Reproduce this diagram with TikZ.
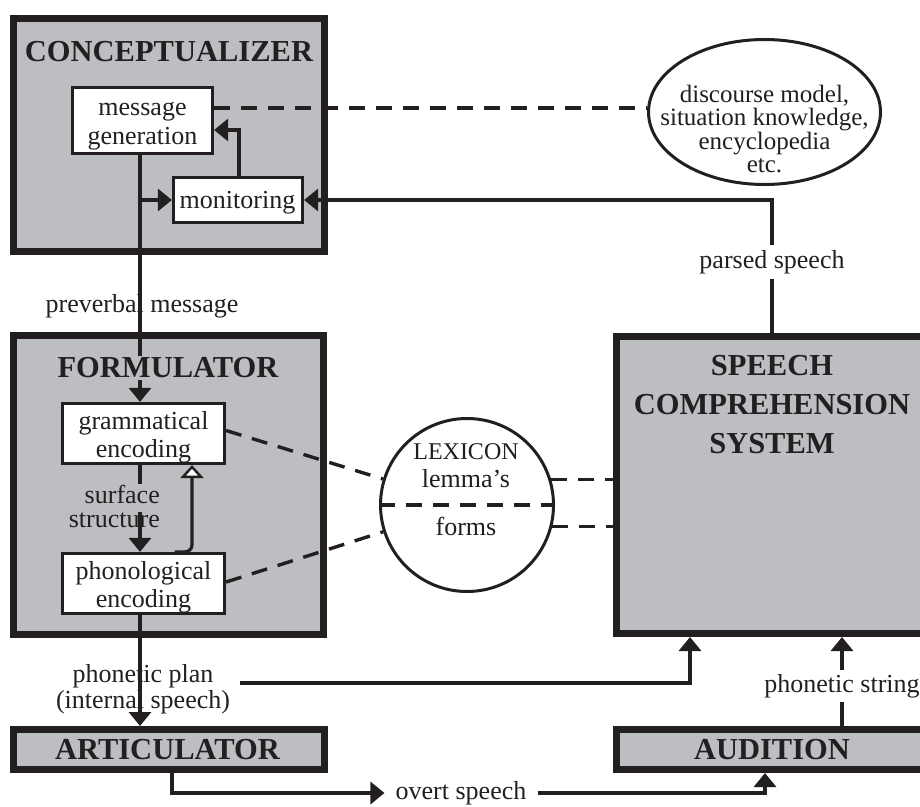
\documentclass[tikz,border=0pt]{standalone}
\usepackage{fontspec}
\setmainfont{Liberation Serif}
\usetikzlibrary{arrows.meta,calc,shapes.geometric}
\definecolor{boxgray}{RGB}{189,190,194}
\definecolor{ink}{RGB}{35,31,32}
\begin{document}
\begin{tikzpicture}[x=1pt,y=-1pt,
  bigbox/.style={draw=ink, line width=7pt, fill=boxgray, inner sep=0pt},
  smallbox/.style={draw=ink, line width=3.2pt, fill=white, inner sep=0pt},
  titlet/.style={font=\fontsize{30.5}{39}\selectfont\bfseries, fill=boxgray, inner sep=2pt, align=center, text=ink},
  lbl/.style={font=\fontsize{26}{28}\selectfont, inner sep=0pt, align=center, text=ink},
  lblone/.style={font=\fontsize{26}{28}\selectfont, inner sep=0pt, text=ink},
  conn/.style={line width=3.2pt, draw=ink},
  arr/.style={conn, -{Triangle[length=14pt,width=22pt]}},
  dashln/.style={line width=3.4pt, draw=ink, dash pattern=on 16pt off 11pt}]
\clip (0,0) rectangle (920,806);
\fill[white] (0,0) rectangle (920,806);

% big boxes
\node[bigbox, minimum width=311pt, minimum height=233pt] (concept) at (169,135) {};
\node[bigbox, minimum width=310pt, minimum height=299pt] (formul) at (168.5,485) {};
\node[bigbox, minimum width=311pt, minimum height=40pt] (artic) at (169,749.5) {};
\node[bigbox, minimum width=311pt, minimum height=297pt] (scs) at (772,485) {};
\node[bigbox, minimum width=311pt, minimum height=40pt] (audit) at (772,749.5) {};

% small boxes
\node[smallbox, minimum width=140pt, minimum height=66pt] (msg) at (142.5,120.5) {};
\node[smallbox, minimum width=129pt, minimum height=45pt] (mon) at (238,200) {};
\node[smallbox, minimum width=162pt, minimum height=60pt] (gram) at (143.5,433.5) {};
\node[smallbox, minimum width=162pt, minimum height=60pt] (phon) at (143.5,583.5) {};

% ellipse and lexicon
\node[ellipse, draw=ink, line width=3pt, minimum width=232pt, minimum height=145pt, inner sep=0pt] (ell) at (764.5,112) {};
\node[circle, draw=ink, line width=3pt, minimum size=173pt, inner sep=0pt, fill=white] (lex) at (467,505) {};

% connectors
\coordinate (col) at (140,0);
\draw[arr] (msg.south -| col) -- (gram.north -| col);
\draw[arr] (col |- mon.west) -- (mon.west);
\draw[arr] ($(mon.north)+(1,0)$) |- ($(msg.east)+(0,9.5)$);
\draw[arr] (scs.north) |- node[lblone, fill=white, inner ysep=5pt, inner xsep=2pt, pos=0.267] (parsed) {parsed speech} (mon.east);

\coordinate (dstart) at ($(msg.east)+(0,-12.5)$);
\draw[dashln] (dstart) -- (ell.west |- dstart);
\draw[dashln] ($(gram.east)+(0,-3)$) -- (lex);
\draw[dashln] ($(phon.east)+(0,-1.5)$) -- (lex);
\draw[dashln] (lex.west) -- (lex.east);
\draw[dashln] (lex.17) -- (scs.west |- lex.17);
\draw[dashln] (lex.-14.5) -- (scs.west |- lex.-14.5);

\coordinate (s1) at (140,484);
\coordinate (s2) at (140,512);
\draw[conn] (gram.south -| col) -- (s1);
\draw[arr] (s2) -- (phon.north -| col);
\draw[conn, rounded corners=7pt, -{Triangle[length=13pt,width=23pt,fill=white,line width=2.4pt]}]
  ($(phon.north)+(31,0)$) -| ($(gram.south)+(48.5,0)$);

\draw[arr] (phon.south -| col) -- (artic.north -| col);
\coordinate (ppl) at (240,683);
\draw[arr] (ppl) -| ($(scs.south)+(-82,0)$);

\node[lblone, inner xsep=11pt] (ovs) at (461,793) {overt speech};
\draw[arr] ($(artic.south)+(3,0)$) |- (ovs.west);
\draw[arr] (ovs.east) -| ($(audit.south)+(-7,0)$);
\draw[arr] ($(audit.north)+(70,0)$) -- node[lblone, fill=white, inner ysep=4pt, inner xsep=2pt, pos=0.45] (pstr) {phonetic string} ($(scs.south)+(70,0)$);

% titles
\node[titlet] (conceptT) at (169,52) {CONCEPTUALIZER};
\node[titlet] (formT) at (168,368) {FORMULATOR};
\node[titlet] (articT) at (167.5,750) {ARTICULATOR};
\node[titlet] (auditT) at (772,750) {AUDITION};
\node[titlet] (scsT) at (772,405) {SPEECH\\COMPREHENSION\\SYSTEM};

% texts
\node[lbl, font=\fontsize{26}{29}\selectfont] (msgT) at (142.5,124.5) {\strut message\\\strut generation};
\node[lbl] (monT) at (237.5,202.5) {\strut monitoring};
\node[lbl] (gramT) at (143.5,438) {\strut grammatical\\\strut encoding};
\node[lbl] (phonT) at (143.5,588) {\strut phonological\\\strut encoding};
\node[lbl, font=\fontsize{25}{23.5}\selectfont] (ellT) at (764.5,129) {discourse model,\\situation knowledge,\\encyclopedia\\etc.};
\node[lblone, font=\fontsize{24}{28}\selectfont, anchor=base] (lexT) at (466,459) {LEXICON};
\node[lblone, anchor=base] (lemT) at (466,487) {lemma’s};
\node[lblone, anchor=base] (formsT) at (466,535) {forms};
\node[lblone, anchor=base] (pvm) at (142,312) {preverbal message};
\node[lblone, anchor=base east] (surf) at (160,503) {surface};
\node[lblone, anchor=base east] (struc) at (160,527) {structure};
\node[lbl, font=\fontsize{26}{22}\selectfont] (pplan) at (143,689.6) {\strut phonetic plan\\\strut (internal speech)};
\end{tikzpicture}
\end{document}
